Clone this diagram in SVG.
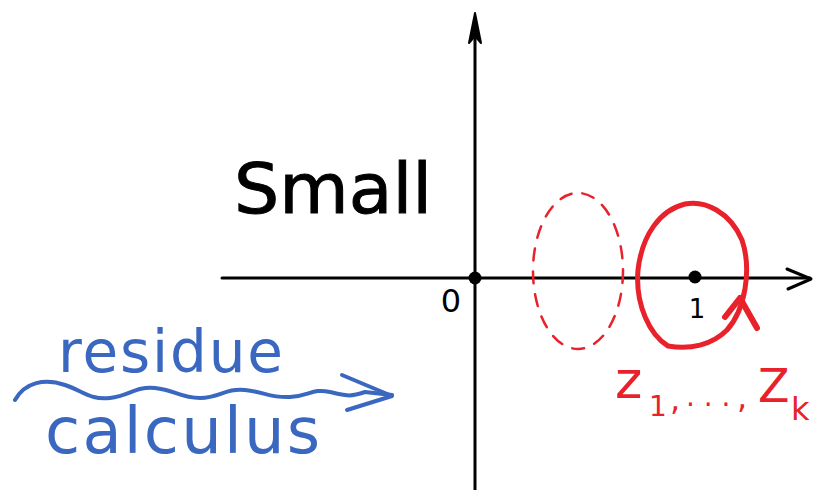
<svg xmlns="http://www.w3.org/2000/svg" width="827" height="490" viewBox="0 0 827 490">
<style>
.ax{stroke:#000;stroke-width:3;fill:none;stroke-linecap:round;stroke-linejoin:round}
.red{stroke:#e8212b;fill:none;stroke-linecap:round;stroke-linejoin:round}
.blue{stroke:#3a67c0;fill:none;stroke-width:4;stroke-linecap:round;stroke-linejoin:round}
.hand{font-family:"DejaVu Sans","Liberation Sans",sans-serif}
</style>
<rect width="827" height="490" fill="#fff"/>
<g id="axes">
<line class="ax" x1="222" y1="278" x2="810" y2="278"/>
<path class="ax" d="M787,269 L811,279 L788,289" stroke-width="3.5"/>
<line class="ax" x1="475" y1="20" x2="475" y2="490"/>
<path d="M475,13 L469,43 L475,36 L481,43 Z" fill="#000" stroke="#000" stroke-width="2" stroke-linejoin="round"/>
</g>
<g id="origin">
<circle cx="475" cy="278" r="6.5" fill="#000"/>
<text class="hand" x="451" y="312" font-size="32" text-anchor="middle" fill="#000">0</text>
</g>
<g id="one">
<circle cx="695" cy="277" r="6.5" fill="#000"/>
<text class="hand" x="697" y="318" font-size="26" text-anchor="middle" fill="#000">1</text>
</g>
<g id="small-label">
<text class="hand" x="234" y="213" font-size="70" fill="#000" stroke="#000" stroke-width="1" textLength="198" lengthAdjust="spacingAndGlyphs">Small</text>
</g>
<g id="dashed-circle">
<ellipse class="red" cx="578" cy="271" rx="45" ry="78" stroke-width="2.5" stroke-dasharray="12 11"/>
</g>
<g id="contour">
<path class="red" stroke-width="5" d="M727,330 C745,310 752,270 742,240 C730,212 705,200 685,204 C660,210 642,235 638,270 C635,305 650,335 668,346 C690,350 712,345 727,330"/>
<path class="red" stroke-width="6" d="M725,317 L740,298 L757,328"/>
</g>
<g id="z-label">
<text class="hand" fill="#e8212b" font-size="52"><tspan x="615" y="398">z</tspan><tspan x="649" y="416" font-size="28">1</tspan><tspan x="670" y="410" font-size="32">,</tspan><tspan x="686" y="406" font-size="28">. . .</tspan><tspan x="737" y="408" font-size="32">,</tspan><tspan x="758" y="402" font-size="46">Z</tspan><tspan x="791" y="420" font-size="32">k</tspan></text>
</g>
<g id="residue">
<text class="hand" x="58" y="372" font-size="58" fill="#3a67c0" textLength="225" lengthAdjust="spacing">residue</text>
<text class="hand" x="45" y="453" font-size="64" fill="#3a67c0" textLength="275" lengthAdjust="spacing">calculus</text>
</g>
<g id="connectors">
<path class="blue" d="M15,400 C25,382 45,378 65,385 S90,400 110,398 S135,386 155,388 S180,398 200,398 S225,388 245,390 S270,398 290,397 S312,388 330,392 S350,397 365,392 L392,395"/>
<path class="blue" d="M342,375 L392,396 L347,410"/>
</g>
</svg>
